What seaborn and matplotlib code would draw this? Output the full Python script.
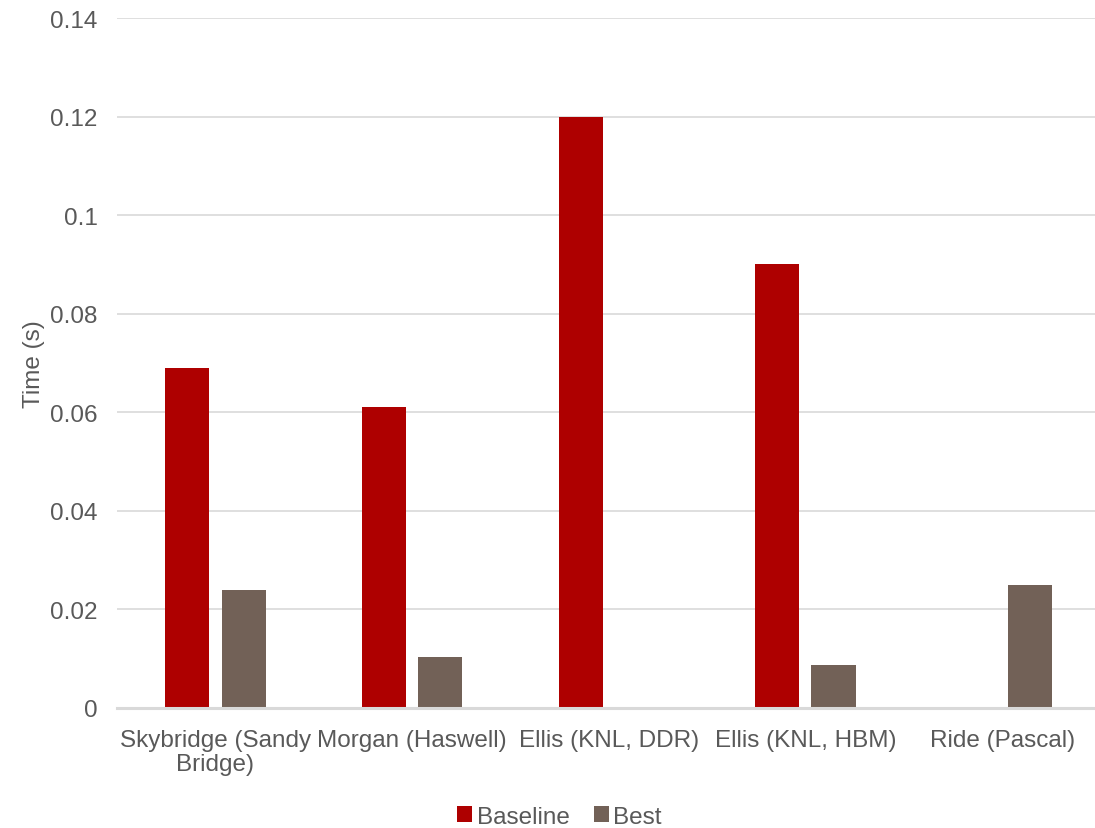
import numpy as np
import pandas as pd
import matplotlib
matplotlib.use("Agg")
import matplotlib.pyplot as plt
import seaborn as sns

categories = ["Skybridge (Sandy\nBridge)", "Morgan (Haswell)", "Ellis (KNL, DDR)",
              "Ellis (KNL, HBM)", "Ride (Pascal)"]
baseline = [0.069, 0.061, 0.120, 0.090, np.nan]
best = [0.024, 0.0104, np.nan, 0.0087, 0.025]
series_names = ["Baseline", "Best"]
yticks = [0, 0.02, 0.04, 0.06, 0.08, 0.1, 0.12, 0.14]
ytick_labels = ["0", "0.02", "0.04", "0.06", "0.08", "0.1", "0.12", "0.14"]

df = pd.DataFrame({
    "category": categories * 2,
    "series": [series_names[0]] * 5 + [series_names[1]] * 5,
    "value": baseline + best,
})

sns.set_theme(style="white")
plt.rcParams['font.family'] = ['Liberation Sans', 'DejaVu Sans']
text_color = "#595959"
grid_color = "#D9D9D9"
fs = 17.5

fig = plt.figure(figsize=(10.95, 8.29), dpi=100)
ax = fig.add_axes([0.107, 0.1448, 0.898, 0.8322])

palette = {"Baseline": "#AE0000", "Best": "#726157"}
sns.barplot(data=df, x="category", y="value", hue="series", order=categories,
            hue_order=series_names, palette=palette, width=0.571, gap=0.214,
            saturation=1, ax=ax, legend=True, edgecolor="none", linewidth=0)

ax.set_ylim(0, 0.14)
ax.set_xlim(-0.5, 4.5)
ax.set_yticks(yticks)
ax.set_yticklabels(ytick_labels)
ax.yaxis.grid(True, color=grid_color, linewidth=1.2)
ax.set_axisbelow(True)
for s in ["top", "right", "left"]:
    ax.spines[s].set_visible(False)
ax.spines["bottom"].set_color(grid_color)
ax.spines["bottom"].set_linewidth(2.2)
ax.tick_params(axis="both", length=0, labelsize=fs, labelcolor=text_color)
ax.tick_params(axis="y", pad=14)
ax.tick_params(axis="x", pad=15)
for lbl in ax.get_xticklabels():
    lbl.set_linespacing(1.15)
ax.set_xlabel("")
ax.set_ylabel("Time (s)", fontsize=fs, color=text_color, labelpad=4)

leg = ax.legend(loc="upper center", bbox_to_anchor=(0.45, -0.117), ncol=2, frameon=False,
                fontsize=fs, handlelength=0.6, handleheight=0.6, handletextpad=0.2,
                columnspacing=1.0, borderpad=0.2)
for t in leg.get_texts():
    t.set_color(text_color)

fig.savefig("out.png", dpi=100)
